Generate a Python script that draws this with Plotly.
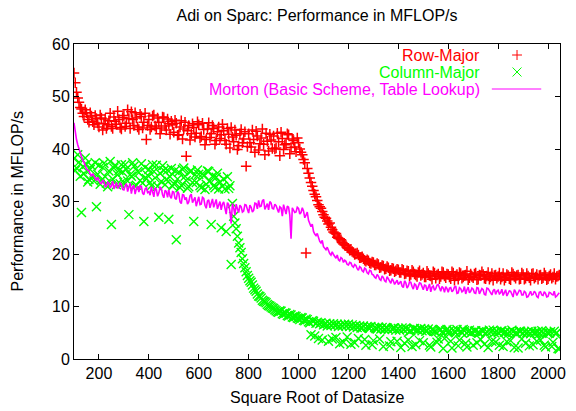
import plotly.graph_objects as go

# x grid: square root of data size, two interleaved sample sets (every 10, offset by 5)
x_a = list(range(100, 2041, 10))
x_b = list(range(105, 2046, 10))

row_major_a = [
    54.5, 50.8, 48.9, 47.6, 46.2, 46.9, 45.1, 46.3, 44.6, 45.8,
    44.2, 45.9, 44.8, 43.9, 45.4, 44.3, 46.1, 44.7, 45.6, 43.8,
    46.4, 44.9, 45.8, 47.1, 44.5, 45.9, 43.7, 46.2, 45.1, 41.8,
    45.6, 44.2, 46.5, 43.9, 45.1, 44.0, 46.0, 43.6, 44.8, 45.3,
    43.2, 44.9, 42.7, 45.4, 43.8, 38.6, 44.5, 42.9, 44.1, 43.0,
    44.6, 42.4, 43.7, 41.8, 45.0, 42.9, 43.9, 41.6, 44.2, 42.7,
    43.5, 40.9, 42.8, 44.1, 41.4, 42.6, 40.6, 43.7, 41.9, 36.7,
    42.9, 40.4, 41.8, 43.4, 39.8, 42.1, 40.9, 43.0, 39.6, 41.7,
    42.5, 40.2, 41.4, 43.2, 39.9, 41.0, 42.7, 40.3, 41.6, 39.5,
    41.2, 39.4, 38.0, 20.2, 35.4, 33.6, 32.1, 30.9, 29.4, 28.7,
    27.5, 26.8, 25.7, 25.1, 24.2, 23.9, 23.0, 22.7, 21.9, 21.6,
    21.1, 20.9, 20.3, 20.0, 19.8, 19.3, 19.1, 18.6, 18.7, 18.2,
    18.4, 17.9, 18.0, 17.5, 17.7, 17.2, 17.4, 16.9, 17.2, 16.8,
    17.0, 16.5, 16.9, 16.3, 16.7, 16.1, 16.6, 16.0, 16.5, 15.9,
    16.4, 15.6, 16.3, 15.8, 16.6, 15.4, 16.2, 15.7, 16.5, 15.5,
    16.1, 15.3, 16.4, 15.8, 15.2, 16.3, 15.6, 16.0, 15.1, 16.2,
    15.5, 16.4, 15.2, 15.9, 16.1, 15.3, 16.5, 15.6, 15.0, 16.0,
    15.7, 15.2, 16.3, 15.5, 15.9, 15.1, 16.2, 15.4, 16.0, 15.3,
    16.1, 15.4, 15.8, 15.0, 16.3, 15.6, 15.2, 16.0, 15.5, 15.9,
    15.3, 16.1, 15.6, 15.2, 15.8,
]
row_major_b = [
    52.6, 49.7, 47.9, 46.8, 47.5, 45.6, 46.9, 45.2, 46.4, 44.9,
    46.5, 43.6, 45.7, 44.6, 46.8, 43.9, 45.3, 47.2, 44.1, 46.0,
    44.3, 47.5, 43.9, 45.6, 46.9, 44.2, 46.6, 44.0, 46.8, 44.5,
    43.7, 46.3, 44.4, 45.9, 42.9, 46.1, 44.4, 45.7, 42.8, 44.6,
    45.5, 42.6, 44.2, 41.9, 45.1, 43.5, 41.7, 44.8, 42.3, 45.2,
    42.1, 44.9, 40.8, 43.8, 42.2, 44.5, 40.9, 43.3, 42.0, 44.7,
    41.6, 43.9, 40.2, 42.3, 43.6, 39.9, 42.9, 41.2, 43.3, 40.5,
    41.2, 43.6, 39.4, 42.5, 41.0, 43.8, 38.9, 41.5, 42.8, 40.1,
    40.0, 43.0, 38.7, 42.0, 40.8, 42.9, 39.1, 41.9, 40.4, 42.1,
    40.0, 38.9, 37.4, 36.3, 34.5, 32.9, 31.4, 30.2, 29.0, 28.1,
    27.0, 26.3, 25.9, 24.6, 24.0, 23.2, 22.9, 22.2, 21.7, 21.2,
    20.7, 20.5, 19.9, 20.2, 19.3, 19.5, 18.8, 18.9, 18.3, 18.5,
    17.9, 18.2, 17.4, 17.8, 17.1, 17.6, 16.8, 17.3, 16.6, 17.1,
    16.5, 17.1, 16.2, 16.8, 15.8, 16.9, 16.2, 15.7, 16.8, 16.1,
    15.6, 16.7, 15.9, 15.2, 16.4, 16.0, 15.3, 16.6, 15.8, 16.2,
    15.6, 16.6, 15.0, 16.1, 16.5, 15.4, 15.9, 16.7, 15.5, 15.7,
    16.2, 15.1, 16.0, 16.6, 15.4, 15.8, 15.2, 16.3, 15.9, 15.4,
    16.4, 15.6, 15.0, 16.1, 15.3, 16.5, 15.7, 15.9, 15.2, 16.4,
    15.2, 16.3, 15.5, 16.2, 15.4, 16.1, 15.9, 15.3, 16.4, 15.1,
    15.8, 15.4, 16.3, 15.7, 16.0,
]

column_major_a = [
    38.2, 36.4, 37.5, 27.9, 35.3, 37.1, 34.2, 36.8, 33.9, 29.0,
    36.9, 34.1, 37.3, 33.5, 35.8, 25.6, 36.4, 33.2, 35.9, 37.0,
    33.6, 36.2, 27.5, 34.8, 36.7, 33.1, 35.5, 37.2, 26.2, 34.4,
    36.1, 33.0, 35.7, 36.9, 27.0, 33.8, 35.9, 34.2, 26.6, 36.3,
    33.4, 22.7, 35.6, 33.1, 36.4, 34.0, 32.8, 35.8, 26.2, 33.6,
    35.2, 32.6, 34.9, 33.3, 35.7, 25.6, 33.0, 34.6, 32.4, 25.0,
    34.3, 24.3, 32.5, 18.0, 27.2, 24.8, 22.1, 20.3, 18.2, 16.6,
    15.4, 14.6, 13.5, 12.9, 12.0, 11.6, 11.0, 10.7, 10.2, 9.9,
    9.6, 9.2, 8.9, 9.1, 8.5, 8.7, 8.2, 8.4, 7.9, 8.1,
    7.7, 7.9, 7.4, 7.6, 7.1, 4.6, 7.2, 6.8, 3.9, 6.9,
    6.5, 6.8, 3.4, 6.4, 6.7, 4.1, 6.2, 6.5, 3.2, 6.3,
    6.6, 2.8, 6.1, 6.4, 3.9, 5.9, 6.3, 2.6, 6.0, 6.2,
    3.5, 5.8, 6.1, 5.7, 2.4, 6.0, 5.6, 3.3, 5.9, 5.5,
    5.8, 2.2, 5.6, 5.9, 3.6, 5.4, 5.7, 2.7, 5.5, 5.8,
    3.1, 5.3, 5.7, 2.3, 5.5, 5.2, 3.8, 5.6, 2.0, 5.4,
    5.1, 3.4, 5.5, 5.0, 2.5, 5.3, 5.6, 3.0, 5.2, 4.9,
    2.6, 5.4, 5.1, 3.7, 5.3, 4.9, 2.2, 5.2, 5.5, 3.2,
    5.0, 5.3, 2.4, 5.1, 4.8, 3.5, 5.2, 5.0, 2.1, 5.3,
    4.9, 3.0, 5.2, 4.8, 2.7, 5.1, 5.3, 3.6, 4.9, 2.3,
    5.0, 5.2, 3.2, 4.8, 2.0,
]
column_major_b = [
    35.9, 38.9, 34.8, 36.6, 38.3, 33.7, 36.1, 34.6, 37.4, 35.2,
    33.3, 36.5, 34.7, 32.8, 37.6, 34.3, 36.9, 35.1, 33.4, 35.6,
    37.0, 33.9, 35.1, 37.4, 32.9, 35.7, 34.0, 33.5, 36.5, 35.0,
    33.6, 37.0, 34.5, 32.9, 35.4, 36.8, 33.2, 36.0, 34.7, 32.9,
    35.9, 34.3, 32.6, 36.1, 34.8, 32.5, 35.7, 33.6, 35.1, 36.0,
    33.0, 35.3, 32.3, 35.8, 33.9, 34.8, 32.6, 35.4, 33.7, 32.9,
    32.4, 34.7, 33.0, 29.6, 25.9, 23.4, 21.2, 19.1, 17.4, 15.9,
    14.9, 14.1, 13.2, 12.4, 11.9, 11.2, 10.9, 10.4, 10.1, 9.7,
    9.4, 9.0, 9.2, 8.6, 8.8, 8.3, 8.5, 8.0, 8.2, 7.8,
    7.5, 7.8, 7.3, 7.5, 6.9, 7.3, 4.4, 7.0, 6.7, 3.6,
    6.6, 6.3, 6.7, 3.8, 6.4, 6.6, 2.9, 6.3, 6.6, 4.2,
    6.2, 6.5, 3.1, 6.0, 6.3, 5.9, 3.7, 6.2, 5.8, 2.7,
    6.0, 5.7, 3.8, 6.0, 5.6, 5.9, 2.5, 5.7, 5.9, 3.4,
    5.5, 5.9, 3.0, 5.6, 5.3, 2.4, 5.8, 5.6, 3.5, 5.4,
    5.7, 5.4, 2.6, 5.6, 5.3, 3.2, 5.5, 5.1, 3.9, 5.6,
    5.4, 2.1, 5.2, 5.6, 3.6, 5.0, 5.4, 2.3, 5.5, 5.1,
    5.3, 3.1, 5.0, 5.4, 2.8, 5.2, 5.5, 3.4, 5.0, 5.3,
    2.6, 5.4, 5.1, 3.3, 5.2, 5.5, 2.2, 4.9, 5.3, 3.8,
    5.2, 5.0, 2.5, 5.3, 5.0, 3.4, 4.8, 5.4, 2.6, 5.1,
    4.9, 2.4, 5.3, 5.0, 1.9,
]

morton_a = [
    45.0, 41.8, 40.1, 38.4, 37.5, 36.2, 35.9, 34.9, 34.8, 34.0,
    33.9, 33.4, 33.8, 32.9, 33.5, 33.0, 32.4, 33.6, 32.8, 33.2,
    32.2, 33.4, 32.6, 31.5, 33.1, 32.4, 31.8, 32.9, 31.3, 32.6,
    31.9, 32.8, 30.9, 32.3, 31.6, 32.5, 30.7, 31.9, 32.2, 30.6,
    31.8, 30.4, 31.5, 29.6, 31.2, 30.8, 29.9, 31.4, 30.2, 29.1,
    30.9, 29.5, 30.6, 28.7, 30.3, 29.8, 28.9, 30.4, 29.2, 28.4,
    29.9, 27.6, 29.4, 25.8, 28.8, 29.5, 27.9, 29.0, 28.2, 29.3,
    27.8, 28.9, 28.3, 29.6, 30.2, 29.1, 30.4, 29.0, 28.4, 29.7,
    28.6, 29.2, 27.9, 28.8, 29.4, 27.6, 28.9, 22.9, 28.3, 28.0,
    28.7, 27.9, 28.2, 27.4, 26.4, 25.2, 24.3, 23.5, 22.9, 22.1,
    21.4, 20.8, 20.6, 19.8, 19.9, 19.2, 18.9, 19.3, 18.4, 18.6,
    17.9, 18.3, 17.5, 17.8, 16.9, 17.4, 16.6, 17.1, 16.2, 16.8,
    16.0, 15.4, 15.8, 15.0, 15.5, 14.7, 15.2, 14.4, 14.9, 14.5,
    14.2, 14.8, 13.6, 14.5, 13.9, 14.6, 13.3, 14.1, 13.7, 14.4,
    13.2, 14.0, 13.6, 12.8, 13.9, 13.4, 14.2, 12.9, 13.5, 13.8,
    12.7, 13.6, 13.1, 13.9, 12.6, 13.4, 13.0, 12.4, 13.7, 12.9,
    13.3, 12.5, 13.5, 12.8, 13.2, 12.2, 13.4, 12.7, 13.0, 12.3,
    13.1, 12.6, 12.1, 13.2, 12.4, 12.9, 11.8, 12.8, 12.5, 13.0,
    12.2, 12.7, 11.9, 12.9, 12.3, 12.6, 11.7, 12.8, 12.1, 12.5,
    11.9, 12.6, 12.2, 11.8, 12.4,
]
morton_b = [
    43.2, 40.8, 39.2, 37.8, 36.6, 36.0, 35.2, 35.3, 34.3, 34.6,
    33.5, 34.1, 32.8, 33.7, 32.6, 33.9, 33.1, 32.5, 33.6, 32.3,
    33.0, 31.9, 33.5, 32.8, 31.4, 32.9, 33.0, 31.6, 32.4, 31.7,
    31.2, 31.5, 32.6, 31.0, 32.7, 31.3, 32.1, 30.8, 31.0, 31.9,
    30.6, 31.9, 29.9, 31.3, 30.3, 29.5, 31.1, 29.8, 30.8, 30.3,
    29.4, 30.8, 29.3, 30.1, 28.8, 30.5, 29.9, 28.6, 30.0, 29.5,
    28.6, 29.8, 28.1, 29.6, 27.4, 28.6, 29.3, 28.0, 29.4, 28.5,
    29.3, 28.0, 29.7, 28.6, 29.0, 30.1, 28.5, 29.6, 30.0, 28.7,
    29.5, 28.3, 29.0, 27.2, 28.5, 29.1, 27.4, 28.8, 27.9, 28.9,
    27.6, 28.8, 26.9, 28.0, 25.9, 25.7, 23.8, 23.9, 22.4, 22.6,
    21.0, 21.3, 20.1, 20.4, 19.6, 19.8, 18.7, 19.1, 18.8, 18.0,
    18.4, 17.7, 18.0, 17.2, 17.6, 16.8, 17.3, 16.4, 16.9, 16.1,
    15.6, 16.1, 15.2, 15.8, 14.9, 15.7, 14.6, 15.3, 14.2, 15.0,
    14.6, 13.9, 14.9, 13.5, 14.7, 13.8, 14.3, 13.2, 14.5, 13.6,
    14.1, 13.0, 14.3, 13.7, 13.1, 14.1, 13.3, 13.8, 12.7, 13.4,
    13.5, 12.8, 13.7, 12.5, 13.6, 12.8, 13.8, 13.2, 12.6, 13.5,
    12.6, 13.6, 12.4, 13.4, 12.3, 13.5, 12.9, 12.2, 13.3, 12.9,
    12.4, 13.3, 12.7, 12.0, 13.0, 12.3, 13.2, 12.1, 13.1, 12.2,
    12.9, 11.8, 12.5, 12.2, 12.9, 11.9, 12.7, 12.2, 12.8, 11.8,
    12.7, 12.3, 12.9, 12.0, 12.6,
]

series_names = ["Row-Major", "Column-Major", "Morton (Basic Scheme, Table Lookup)"]
x_ticks = [200, 400, 600, 800, 1000, 1200, 1400, 1600, 1800, 2000]
y_ticks = [0, 10, 20, 30, 40, 50, 60]


def interleave(xa, ya, xb, yb):
    xs, ys = [], []
    for p, q, r, s in zip(xa, ya, xb, yb):
        xs += [p, r]
        ys += [q, s]
    return xs, ys


x_row, y_row = interleave(x_a, row_major_a, x_b, row_major_b)
x_col, y_col = interleave(x_a, column_major_a, x_b, column_major_b)
x_mor, y_mor = interleave(x_a, morton_a, x_b, morton_b)

RED, GREEN, MAGENTA = "#ff0000", "#00ff00", "#ff00ff"
FONT = "Liberation Sans, Arial, Helvetica, sans-serif"

W, H = 576, 411
L, R, T, B = 74, 10, 44, 52
pw, ph = W - L - R, H - T - B


def px(xp):
    return (xp - L) / pw


def py(yp):
    return (H - B - yp) / ph


fig = go.Figure()
fig.add_trace(go.Scatter(
    x=x_row, y=y_row, mode="markers", name=series_names[0],
    marker=dict(symbol="cross-thin", size=7.5, color=RED, line=dict(color=RED, width=1.5)),
    showlegend=False))
fig.add_trace(go.Scatter(
    x=x_col, y=y_col, mode="markers", name=series_names[1],
    marker=dict(symbol="x-thin", size=9, color=GREEN, line=dict(color=GREEN, width=1.4)),
    showlegend=False))
fig.add_trace(go.Scatter(
    x=x_mor, y=y_mor, mode="lines", name=series_names[2],
    line=dict(color=MAGENTA, width=1.6), showlegend=False))

# gnuplot-style key: right-aligned text, sample on the right
key_rows = [55, 72, 89]
key_colors = [RED, GREEN, MAGENTA]
annotations = []
for name, yy, col in zip(series_names, key_rows, key_colors):
    annotations.append(dict(
        text=name, x=px(487), y=py(yy), xref="paper", yref="paper",
        xanchor="right", yanchor="middle", showarrow=False,
        font=dict(family=FONT, size=16, color=col)))

shapes = []
cx, cy = 522.5, key_rows[0]
shapes.append(dict(type="line", xref="paper", yref="paper",
                   x0=px(cx - 5), x1=px(cx + 5), y0=py(cy), y1=py(cy),
                   line=dict(color=RED, width=1)))
shapes.append(dict(type="line", xref="paper", yref="paper",
                   x0=px(cx), x1=px(cx), y0=py(cy - 5), y1=py(cy + 5),
                   line=dict(color=RED, width=1)))
cy = key_rows[1]
shapes.append(dict(type="line", xref="paper", yref="paper",
                   x0=px(cx - 4.5), x1=px(cx + 4.5), y0=py(cy - 4.5), y1=py(cy + 4.5),
                   line=dict(color=GREEN, width=1)))
shapes.append(dict(type="line", xref="paper", yref="paper",
                   x0=px(cx - 4.5), x1=px(cx + 4.5), y0=py(cy + 4.5), y1=py(cy - 4.5),
                   line=dict(color=GREEN, width=1)))
cy = key_rows[2]
shapes.append(dict(type="line", xref="paper", yref="paper",
                   x0=px(497), x1=px(547), y0=py(cy), y1=py(cy),
                   line=dict(color=MAGENTA, width=1)))

# axis titles
annotations.append(dict(text="Square Root of Datasize", x=0.5, y=0, xref="paper", yref="paper",
                        xanchor="center", yanchor="middle", yshift=-38, showarrow=False,
                        font=dict(family=FONT, size=16, color="black")))
annotations.append(dict(text="Performance in MFLOP/s", x=0, y=0.5, xref="paper", yref="paper",
                        xanchor="center", yanchor="middle", xshift=-(L - 17), textangle=-90,
                        showarrow=False, font=dict(family=FONT, size=16, color="black")))

axis_common = dict(showline=True, linecolor="black", linewidth=1, mirror="allticks",
                   ticks="inside", ticklen=5, tickwidth=1, tickcolor="black",
                   showgrid=False, zeroline=False,
                   tickfont=dict(family=FONT, size=16, color="black"))

fig.update_layout(
    width=W, height=H,
    margin=dict(l=L, r=R, t=T, b=B),
    paper_bgcolor="white", plot_bgcolor="white",
    title=dict(text="Adi on Sparc: Performance in MFLOP/s", x=0.5,
               xref="paper", y=1 - 15 / H, yref="container", yanchor="middle",
               xanchor="center", font=dict(family=FONT, size=16, color="black")),
    xaxis=dict(range=[100, 2048], tickvals=x_ticks, **axis_common),
    yaxis=dict(range=[0, 60], tickvals=y_ticks, **axis_common),
    annotations=annotations, shapes=shapes,
    font=dict(family=FONT, size=16, color="black"),
)

fig.write_html("out.html")
